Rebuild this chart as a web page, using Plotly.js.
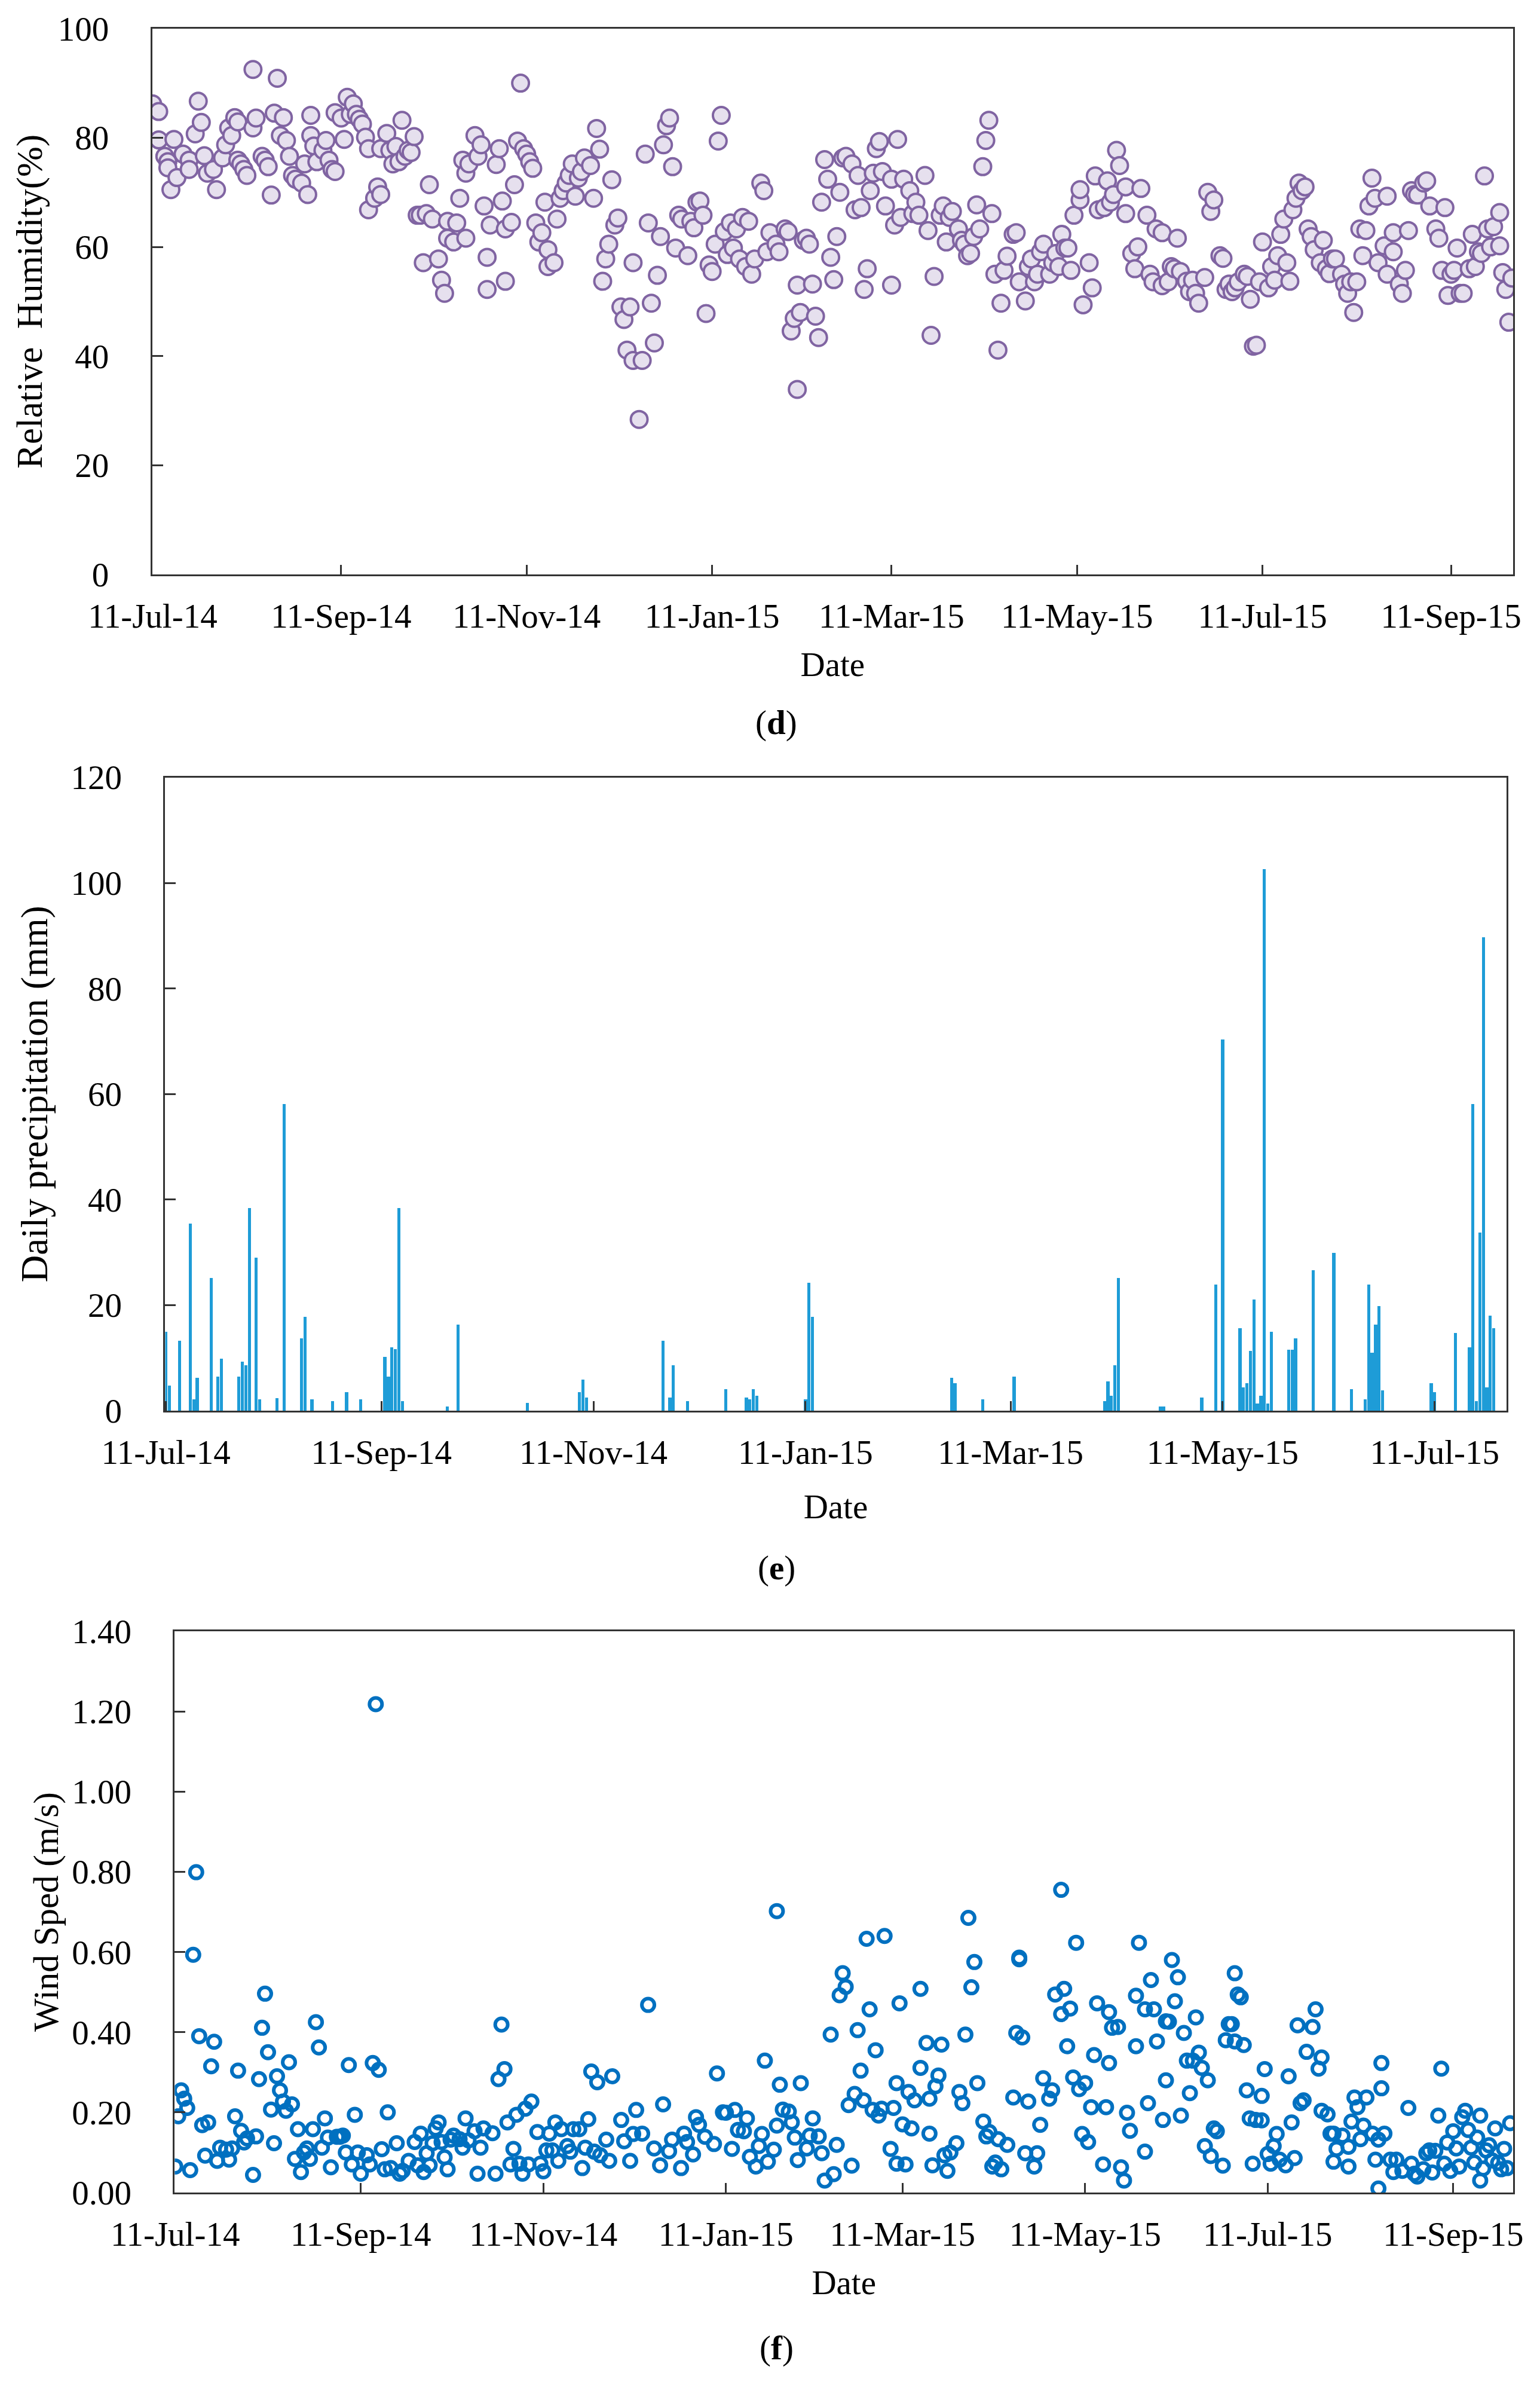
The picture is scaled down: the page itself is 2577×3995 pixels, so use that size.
<!DOCTYPE html>
<html>
<head>
<meta charset="utf-8">
<script src="https://cdn.plot.ly/plotly-3.0.1.min.js"></script>
<style>html,body{margin:0;padding:0;background:#fff;}#chart{width:2577px;height:3995px;}</style>
</head>
<body>
<div id="chart"></div>
<script>
// ---------- DATA (day offsets from 11-Jul-2014) ----------
const startDate = '2014-07-11';

const tickDates = ['2014-07-11','2014-09-11','2014-11-11','2015-01-11','2015-03-11','2015-05-11','2015-07-11','2015-09-11'];
const tickLabels = ['11-Jul-14','11-Sep-14','11-Nov-14','11-Jan-15','11-Mar-15','11-May-15','11-Jul-15','11-Sep-15'];

// (d) Relative humidity (%)
const rhDay = [0,2,2,4,5,5,6,7,8,10,12,12,14,15,16,17,18,20,21,23,24,25,26,27,28,28,29,30,31,33,33,34,36,37,38,39,40,41,42,43,44,45,46,47,49,50,51,52,52,53,54,56,57,58,59,60,60,62,63,64,65,66,67,68,69,70,71,71,73,74,75,75,77,78,79,80,81,82,83,84,85,86,87,88,89,90,91,92,94,95,96,97,97,99,100,101,102,103,103,104,106,107,108,109,110,110,111,113,114,115,116,116,118,119,120,121,122,123,124,125,126,127,128,129,130,130,132,133,134,135,136,137,138,139,140,141,142,144,145,146,147,148,149,150,151,152,153,154,155,156,157,158,158,160,161,162,163,164,165,166,167,168,169,170,171,172,173,174,176,177,178,179,180,181,182,183,184,185,186,187,188,189,190,191,192,193,194,195,
196,197,198,200,201,202,203,205,206,208,209,210,211,212,212,213,214,215,216,217,218,219,220,221,222,223,224,225,226,227,228,230,231,232,233,234,235,236,237,238,239,240,241,243,243,244,245,246,247,249,250,251,252,254,255,256,257,259,260,261,262,263,265,266,267,268,269,270,271,272,273,274,275,276,277,278,279,280,281,283,284,285,287,288,289,290,291,292,293,295,296,297,298,299,300,301,302,303,305,305,306,308,309,310,311,313,314,315,316,317,318,320,320,322,323,324,325,327,328,329,330,332,332,334,335,336,337,338,340,341,342,343,344,346,347,348,349,351,352,353,354,355,356,357,359,360,361,362,363,364,365,367,368,369,370,371,372,373,374,375,376,377,378,379,380,381,382,384,385,386,387,388,389,391,392,393,394,395,396,397,398,399,400,401,402,403,405,406,406,408,408,410,411,412,413,414,415,416,418,419,420,422,423,424,425,426,427,428,429,430,431,433,434,435,436,437,438,439,440,441,443,443,444,445,446,447];
const rhVal = [86.2,84.8,79.6,76.6,75.6,74.5,70.5,79.7,72.7,77,75.9,74.2,80.7,86.7,82.8,76.7,73.5,74.2,70.5,76.3,78.7,81.8,80.4,83.7,82.9,75.9,75.2,74.2,73.1,81.8,92.5,83.6,76.6,75.9,74.7,69.5,84.5,90.9,80.4,83.7,79.5,76.6,73.1,72.4,71.7,75.2,69.6,80.4,84.1,78.5,75.6,77.7,79.5,75.9,74.2,84.6,73.8,83.6,79.7,87.4,84.3,86.2,84.3,83.4,82.5,80.1,78,66.8,68.9,71,69.6,78,80.8,77.7,75.2,78.4,75.6,83.2,76.6,77.7,77.3,80.2,65.8,65.8,57.1,66.1,71.4,65.1,57.8,53.9,51.5,61.6,64.7,60.9,64.4,68.9,75.9,73.5,61.6,75.2,80.4,76.6,78.7,67.5,52.2,58.1,64,75.1,78,68.4,53.7,63.3,64.5,71.4,79.4,90,78,77,75.6,74.4,64.4,60.9,62.6,68.2,59.5,56.4,57.1,65.1,68.9,70.3,71.7,73.1,75.2,69.3,72.6,73.8,76.3,74.9,68.9,81.7,77.9,53.7,57.8,60.5,72.3,64,65.3,49,46.7,41.1,49,39.2,57.1,28.4,39.2,77,64.4,49.7,42.4,54.8,61.9,78.7,82.2,83.6,74.7,59.8,65.8,65.1,58.4,64.7,63.5,68.2,68.4,65.8,47.8,56.7,55.5,60.5,79.4,84.1,62.8,58.6,64.4,59.8,63.3,57.8,65.4,56.4,
64.7,55,57.8,71.7,70.3,59.1,62.6,60.5,59.1,63.3,62.8,44.6,46.9,53,33.9,48,61.2,61.6,60.5,53.2,47.3,43.4,68.2,76,72.4,58.1,54,61.9,70,76.3,76.6,75.2,66.8,73.1,67.2,52.2,56,70.3,73.5,78,79.3,73.8,67.5,72.4,53,64,79.7,65.4,72.4,70.3,66.1,68.2,65.8,73.1,63,43.8,54.6,65.8,67.5,60.9,65.4,66.5,63.3,61.2,60.5,58.4,58.8,61.9,67.7,63.3,74.7,79.5,83.2,66.1,55,41.1,49.7,55.7,58.3,62.3,62.6,53.6,50.1,56.4,57.8,53.6,55,59.1,60.5,55,57.1,58.8,56.4,62.3,59.8,59.8,55.7,65.8,68.6,70.5,49.4,57.1,52.5,73,66.8,67.2,72.1,68.2,69.6,77.7,74.9,71,66.1,58.8,56,60,70.7,65.8,55,53.6,63.3,62.6,52.9,53.6,56.4,56,61.6,55.5,53.7,51.8,53.9,51.5,49.7,54.4,70,66.5,68.6,58.4,57.9,52.2,53.2,51.8,52.5,53.6,55,54.6,50.4,41.8,42,53.6,60.9,52.5,56.4,53.9,58.4,62.3,65.1,57.1,53.7,66.8,68.9,71.7,70.3,71,63.3,61.9,59.5,57.1,61.2,56,55.1,57.8,57.8,55,53.2,51.5,53.6,48,53.6,63.3,58.4,63,67.5,72.6,68.9,57.1,60.2,55,69.3,62.6,59.1,53.2,51.5,55.7,63,70.3,69.6,69.5,71.7,72.1,67.5,63.3,61.6,55.7,67.2,51.1,55,55.7,59.8,51.5,51.5,56,62.3,56.4,59.1,58.8,73,63.3,60,63.7,60.2,66.3,55.3,52.2,46.2,54.3];

// (e) Daily precipitation (mm)
const prDay = [0,1,4,7,8,9,13,15,16,21,22,23,24,26,27,32,34,39,40,42,48,52,56,63,64,65,66,67,68,81,84,104,119,120,121,143,145,146,150,161,167,168,169,170,184,185,186,226,227,235,244,270,271,272,273,274,286,287,298,302,304,309,310,311,312,313,314,315,316,317,318,323,324,325,330,336,341,345,346,347,348,349,350,364,365,371,375,376,377,378,379,380,381,382];
const prVal = [15.0,4.8,13.3,35.4,2.1,6.2,25.2,6.5,9.9,6.5,9.3,8.6,38.4,29.0,2.1,2.4,58.1,13.7,17.8,2.1,1.8,3.5,2.1,10.2,6.5,12.0,11.7,38.4,1.8,0.8,16.3,1.5,3.5,5.9,2.5,13.3,2.5,8.6,1.8,4.1,2.5,2.1,4.1,2.8,2.1,24.2,17.8,6.2,5.2,2.1,6.5,1.8,5.5,2.8,8.6,25.2,0.8,0.8,2.5,23.9,70.3,15.6,4.4,5.2,11.3,21.1,1.4,2.8,102.6,1.4,15.0,11.6,11.6,13.7,26.6,29.9,4.1,2.1,23.9,11.0,16.3,19.8,3.8,5.2,3.5,14.7,12.0,58.1,1.8,33.7,89.7,4.4,18.0,15.6];

// (f) Wind speed (m/s)
const wsDay = [0,1,2,3,4,5,6,7,8,9,10,11,12,13,14,15,17,18,19,20,21,22,23,24,26,27,28,29,30,31,32,33,34,35,36,37,38,39,40,41,42,43,44,45,46,47,48,49,50,51,52,54,55,56,57,58,59,60,61,62,64,65,66,67,68,69,70,71,72,74,75,76,78,80,81,82,83,84,85,86,87,88,89,90,91,92,93,95,96,97,98,100,101,102,103,106,107,108,109,110,111,112,113,114,115,116,117,118,119,121,122,123,124,125,126,127,128,129,131,132,133,135,136,137,138,139,140,141,142,144,145,146,149,150,
152,153,154,156,158,160,162,163,165,166,169,170,171,173,174,175,177,180,181,183,184,186,187,188,190,191,192,194,195,196,197,198,200,201,201,202,203,205,206,207,208,209,211,212,213,215,216,217,219,220,221,222,223,224,225,226,227,228,229,230,231,232,233,234,235,236,237,239,240,241,241,242,243,244,245,246,247,249,249,251,252,252,253,254,255,256,257,258,259,261,262,263,264,265,266,267,268,270,271,272,273,274,275,276,278,280,281,282,282,283,284,285,287,288,289,290,292,293,294,
296,297,296,299,298,301,300,302,304,303,305,306,307,308,310,311,312,312,313,315,316,317,318,319,321,321,322,324,324,325,326,327,328,330,331,331,332,333,334,335,336,337,338,339,340,341,342,343,344,345,346,347,348,350,351,352,353,354,354,355,356,357,358,359,360,361,363,364,363,365,366,367,368,369,371,372,373,374,376,377,375,378,380,381,382,383,383,385,386,387,387,388,390,392,392,393,394,395,396,397,398,400,401,402,403,403,404,402,406,407,408,410,412,413,414,415,417,418,419,420,421,422,423,424,425,426,427,428,429,430,431,432,433,434,435,436,436,437,438,439,440,441,442,443,444,445,446];
const wsVal = [0.065,0.19,0.255,0.234,0.211,0.056,0.593,0.799,0.39,0.168,0.092,0.175,0.315,0.376,0.079,0.112,0.107,0.082,0.11,0.19,0.304,0.154,0.125,0.135,0.044,0.14,0.283,0.411,0.496,0.35,0.207,0.123,0.29,0.255,0.227,0.204,0.325,0.22,0.084,0.158,0.051,0.1,0.11,0.084,0.158,0.425,0.362,0.112,0.185,0.137,0.063,0.139,0.139,0.142,0.1,0.318,0.07,0.194,0.1,0.047,0.093,0.07,0.323,1.218,0.306,0.108,0.058,0.2,0.061,0.123,0.047,0.054,0.079,0.126,0.068,0.147,0.051,0.098,0.068,0.123,0.16,0.175,0.126,0.088,0.058,0.132,0.142,0.133,0.112,0.185,0.13,0.153,0.047,0.112,0.16,0.148,0.047,0.283,0.419,0.308,0.175,0.07,0.109,0.194,0.072,0.047,0.209,0.07,0.227,0.151,0.072,0.053,0.105,0.147,0.105,0.175,0.079,0.158,0.116,0.102,0.158,0.158,0.061,0.112,0.183,0.302,0.102,0.275,0.093,0.132,0.079,0.29,0.181,0.128,
0.079,0.146,0.206,0.147,0.468,0.11,0.068,0.22,0.103,0.132,0.061,0.147,0.126,0.095,0.188,0.169,0.139,0.121,0.297,0.2,0.199,0.109,0.206,0.156,0.153,0.185,0.089,0.065,0.116,0.146,0.329,0.077,0.107,0.702,0.167,0.269,0.207,0.202,0.175,0.137,0.081,0.273,0.11,0.142,0.185,0.14,0.098,0.03,0.394,0.046,0.119,0.492,0.547,0.513,0.218,0.067,0.246,0.405,0.304,0.23,0.633,0.457,0.206,0.355,0.192,0.209,0.64,0.109,0.211,0.273,0.072,0.472,0.17,0.07,0.251,0.16,0.23,0.311,0.508,0.373,0.234,0.147,0.068,0.265,0.292,0.369,0.093,0.054,0.1,0.123,0.251,0.223,0.394,0.685,0.512,0.575,0.273,0.177,0.14,0.151,0.065,0.075,0.133,0.058,0.119,0.237,0.398,0.582,0.586,0.387,0.098,0.227,0.065,0.098,0.169,0.285,0.234,0.255,0.494,
0.755,0.508,0.445,0.459,0.365,0.623,0.287,0.258,0.273,0.146,0.126,0.213,0.343,0.472,0.07,0.213,0.323,0.45,0.411,0.413,0.063,0.03,0.199,0.154,0.365,0.491,0.623,0.457,0.102,0.223,0.53,0.457,0.377,0.181,0.28,0.427,0.426,0.58,0.477,0.537,0.192,0.398,0.329,0.248,0.329,0.437,0.349,0.311,0.116,0.28,0.091,0.16,0.153,0.067,0.38,0.42,0.42,0.377,0.547,0.494,0.487,0.368,0.255,0.185,0.072,0.181,0.18,0.308,0.241,0.096,0.072,0.116,0.146,0.082,0.068,0.29,0.175,0.086,0.223,0.23,0.417,0.351,0.413,0.457,0.309,0.337,0.204,0.195,0.147,0.147,0.077,0.109,0.142,0.114,0.065,0.177,0.237,0.213,0.133,0.167,0.237,0.147,0.082,0.132,0.323,0.26,0.147,0.01,0.082,0.051,0.082,0.054,0.211,0.072,0.047,0.04,0.058,0.098,0.105,0.05,0.104,0.192,0.309,0.072,0.125,0.054,0.153,0.11,0.065,0.188,0.204,0.156,0.112,0.075,0.137,0.192,0.03,0.06,0.105,0.118,0.08,0.16,0.074,0.058,0.109,0.061,0.173];

// ---------- helpers ----------
const base = Date.parse(startDate + 'T00:00:00Z');
function toDate(d){ return new Date(base + d*86400000).toISOString().slice(0,10); }

const FONT = 'Liberation Serif, Times New Roman, serif';
const FS = 57;
const AX = '#333333';

function xAxis(dom, range, ticks, labels, anchor, tStand){
  return {
    domain: dom, range: range, type: 'date', anchor: anchor,
    tickmode: 'array', tickvals: ticks, ticktext: labels,
    ticks: 'inside', ticklen: 16, tickwidth: 3, tickcolor: AX,
    showline: true, linecolor: AX, linewidth: 3, mirror: true,
    showgrid: false, zeroline: false,
    tickfont: {family: FONT, size: FS, color: '#000'},
    ticklabelstandoff: 18,
    title: {text: 'Date', font: {family: FONT, size: FS, color: '#000'}, standoff: tStand}
  };
}
function yAxis(dom, range, dtick, fmt, title, anchor, tSize, tStand){
  return {
    domain: dom, range: range, dtick: dtick, tick0: 0, tickformat: fmt, anchor: anchor,
    ticks: 'inside', ticklen: 18, tickwidth: 3, tickcolor: AX,
    showline: true, linecolor: AX, linewidth: 3, mirror: true,
    showgrid: false, zeroline: false,
    tickfont: {family: FONT, size: FS, color: '#000'},
    ticklabelstandoff: 58,
    title: {text: title, font: {family: FONT, size: tSize, color: '#000'}, standoff: tStand}
  };
}

const traces = [
  {
    type: 'scatter', mode: 'markers', xaxis: 'x', yaxis: 'y',
    x: rhDay.map(toDate), y: rhVal,
    marker: {symbol: 'circle', size: 28, color: '#e6e0ee', line: {color: '#8064a2', width: 4}},
    hoverinfo: 'skip'
  },
  {
    type: 'bar', xaxis: 'x2', yaxis: 'y2',
    x: prDay.map(toDate), y: prVal,
    width: prDay.map(() => 0.9*86400000),
    marker: {color: '#1e9cd7', line: {width: 0}},
    hoverinfo: 'skip'
  },
  {
    type: 'scatter', mode: 'markers', xaxis: 'x3', yaxis: 'y3',
    x: wsDay.map(toDate), y: wsVal,
    marker: {symbol: 'circle-open', size: 21, color: '#0070c0', line: {color: '#0070c0', width: 6}},
    hoverinfo: 'skip'
  }
];

const W = 2577, H = 3995;
const domD = {x: [254.6/W, 2532/W], y: [1-961/H, 1-47.8/H]};
const domE = {x: [276.4/W, 2520.5/W], y: [1-2360/H, 1-1300.5/H]};
const domF = {x: [292.4/W, 2532/W], y: [1-3668/H, 1-2729/H]};

const layout = {
  width: W, height: H,
  margin: {l: 0, r: 0, t: 0, b: 0},
  paper_bgcolor: '#ffffff', plot_bgcolor: '#ffffff',
  showlegend: false, bargap: 0,
  font: {family: FONT, size: FS, color: '#000'},
  xaxis: xAxis(domD.x, ['2014-07-10 20:00','2015-10-01 10:00'], tickDates, tickLabels, 'y', 30),
  yaxis: yAxis(domD.y, [0,100], 20, '', 'Relative\u00a0\u00a0Humidity(%)', 'x', 61, 7),
  xaxis2: xAxis(domE.x, ['2014-07-10 19:00','2015-07-31 14:00'], tickDates.slice(0,7), tickLabels.slice(0,7), 'y2', 40),
  yaxis2: yAxis(domE.y, [0,120], 20, '', 'Daily precipitation (mm)', 'x2', 63, 19),
  xaxis3: xAxis(domF.x, ['2014-07-10 20:00','2015-10-01 00:00'], tickDates, tickLabels, 'y3', 30),
  yaxis3: yAxis(domF.y, [0,1.4], 0.2, '.2f', 'Wind Sped (m/s)', 'x3', 59, 4),
  annotations: [
    {text: '(<b>d</b>)', x: 1299/W, y: 1-1175/H, xref: 'paper', yref: 'paper', showarrow: false, font: {family: FONT, size: FS, color: '#000'}},
    {text: '(<b>e</b>)', x: 1299/W, y: 1-2623/H, xref: 'paper', yref: 'paper', showarrow: false, font: {family: FONT, size: FS, color: '#000'}},
    {text: '(<b>f</b>)', x: 1299/W, y: 1-3962/H, xref: 'paper', yref: 'paper', showarrow: false, font: {family: FONT, size: FS, color: '#000'}}
  ]
};

Plotly.newPlot('chart', traces, layout, {displayModeBar: false, staticPlot: true});
</script>
</body>
</html>
